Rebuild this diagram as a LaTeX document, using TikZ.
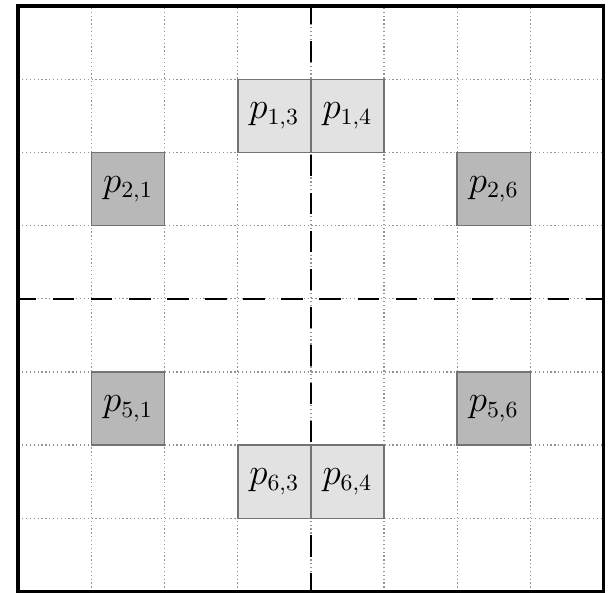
\documentclass[tikz,border=0pt]{standalone}
\usepackage{tikz}

\definecolor{celldark}{gray}{0.72}
\definecolor{celllight}{gray}{0.885}
\definecolor{cellline}{gray}{0.45}

\tikzset{
	cellbox/.style={draw=cellline, line width=0.6pt, minimum size=1cm, inner sep=0pt, font=\fontsize{13.5}{16}\selectfont},
	darkcell/.style={cellbox, fill=celldark},
	lightcell/.style={cellbox, fill=celllight},
	halfline/.style={line width=0.8pt, dash pattern=on 0.29cm off 0.23cm, dash phase=0.0425cm}
}

\begin{document}
\begin{tikzpicture}
	\useasboundingbox (-0.25,-0.02) rectangle (8.13,8.085);
	\draw[gray!85, line width=0.5pt, densely dotted] (0,0) grid (8,8);
	% halves of the board
	\coordinate (top) at (4,8);
	\coordinate (bottom) at (4,0);
	\coordinate (left) at (0,4);
	\coordinate (right) at (8,4);
	\draw[halfline] (bottom) -- (top);
	\draw[halfline] (left) -- (right);
	\node[lightcell] (p13) at (3.5,6.5) {$p_{1,3}$};
	\node[lightcell] (p14) at (4.5,6.5) {$p_{1,4}$};
	\node[darkcell] (p21) at (1.5,5.5) {$p_{2,1}$};
	\node[darkcell] (p26) at (6.5,5.5) {$p_{2,6}$};
	\node[darkcell] (p51) at (1.5,2.5) {$p_{5,1}$};
	\node[darkcell] (p56) at (6.5,2.5) {$p_{5,6}$};
	\node[lightcell] (p63) at (3.5,1.5) {$p_{6,3}$};
	\node[lightcell] (p64) at (4.5,1.5) {$p_{6,4}$};
	\draw[line width=1.4pt] (0,0) rectangle (8,8);
\end{tikzpicture}
\end{document}
